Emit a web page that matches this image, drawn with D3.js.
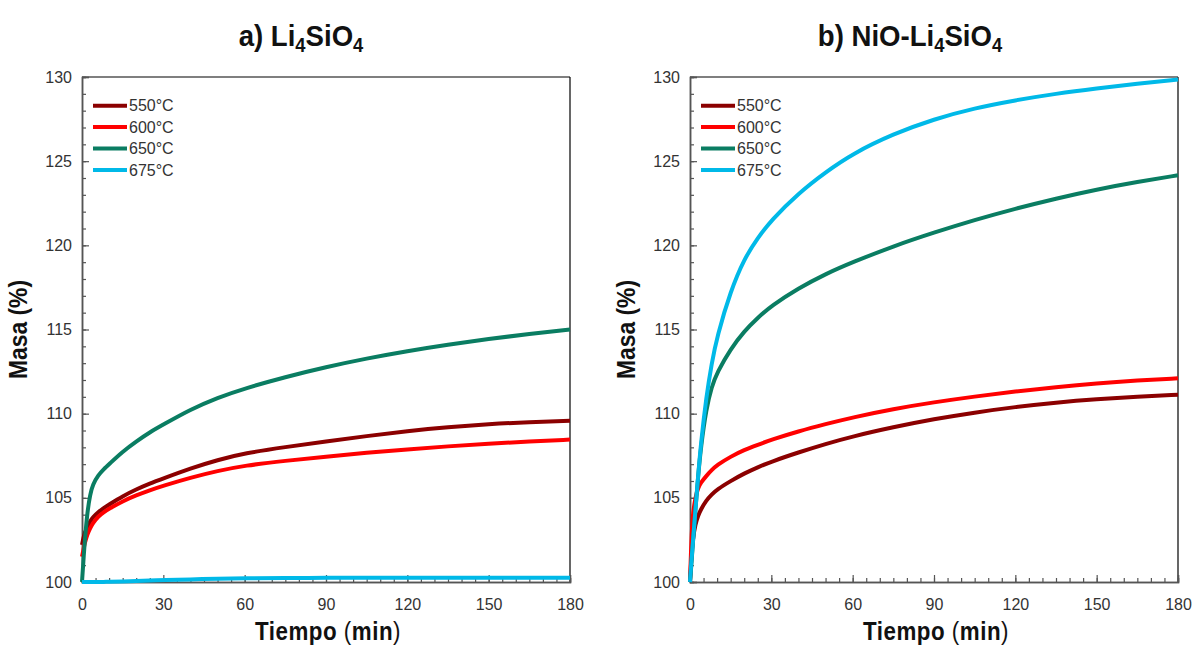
<!DOCTYPE html>
<html><head><meta charset="utf-8">
<script src="https://cdn.jsdelivr.net/npm/d3@7"></script>
<style>
body{margin:0;background:#fff;}
svg{display:block;}
.tick text{font-family:"Liberation Sans",Arial,sans-serif;}
</style></head><body>
<svg id="chart" width="1195" height="645"></svg>
<script>
const times = [0,0.5,1,2,3,4,6,8,10,15,20,25,30,40,50,60,75,90,105,120,135,150,165,180];
const seriesNames = ["550°C","600°C","650°C","675°C"];
const colors = ["#8B0000","#FF0000","#0A7D62","#00B9E8"];
// Panel a) Li4SiO4
const a550 = [102.2,102.6,102.9,103.3,103.6,103.85,104.15,104.4,104.6,105.1,105.5,105.85,106.15,106.75,107.25,107.65,108.02,108.35,108.67,108.96,109.2,109.38,109.5,109.58];
const a600 = [101.5,101.9,102.3,102.85,103.2,103.5,103.9,104.15,104.35,104.8,105.15,105.45,105.72,106.2,106.6,106.92,107.2,107.45,107.68,107.88,108.06,108.22,108.35,108.46];
const a650 = [100,101.2,102.4,104.2,105.2,105.8,106.35,106.7,107.0,107.75,108.35,108.9,109.35,110.25,110.95,111.5,112.18,112.77,113.28,113.72,114.1,114.44,114.74,115.0];
const a675 = [100,100,100,100,100,100,100,100,100.02,100.03,100.05,100.1,100.12,100.15,100.2,100.22,100.23,100.25,100.25,100.25,100.25,100.25,100.25,100.25];
// Panel b) NiO-Li4SiO4
const b550 = [100,101.5,102.5,103.45,103.95,104.3,104.85,105.2,105.5,106.0,106.45,106.82,107.15,107.7,108.2,108.65,109.2,109.68,110.07,110.4,110.66,110.86,111.01,111.13];
const b600 = [100,102.5,104.0,105.05,105.6,105.9,106.3,106.65,106.95,107.45,107.85,108.15,108.45,108.95,109.38,109.78,110.28,110.68,111.02,111.32,111.58,111.8,111.97,112.1];
const b650 = [100,101,102.2,104.3,106.3,108.0,110.3,111.6,112.45,113.85,114.9,115.7,116.4,117.45,118.3,119.0,119.95,120.76,121.51,122.18,122.78,123.32,123.77,124.16];
const b675 = [100,101.2,102.2,104.3,106.3,108.2,111.0,113.0,114.6,117.3,119.2,120.45,121.5,123.1,124.35,125.45,126.62,127.5,128.15,128.62,129.01,129.32,129.6,129.85];
const xTicks = [0,30,60,90,120,150,180];
const yTicks = [100,105,110,115,120,125,130];

const svg = d3.select("#chart");
const sans = '"Liberation Sans",Arial,sans-serif';

function panel(x0, x1, title, vals, titleX){
  const top=77, bottom=582;
  const x = d3.scaleLinear().domain([0,180]).range([x0,x1]);
  const y = d3.scaleLinear().domain([100,130]).range([bottom,top]);
  const g = svg.append("g");
  g.append("line").attr("x1",x0).attr("x2",x1).attr("y1",top).attr("y2",top).attr("stroke","#000").attr("stroke-width",1.2);
  g.append("line").attr("x1",x1).attr("x2",x1).attr("y1",top).attr("y2",bottom).attr("stroke","#000").attr("stroke-width",1.2);
  const ax = d3.axisBottom(x).tickValues(d3.range(0,181,5)).tickSize(-4).tickFormat("");
  const gxm = g.append("g").attr("transform",`translate(0,${bottom})`).call(ax);
  const ay = d3.axisLeft(y).tickValues(d3.range(100,131,1)).tickSize(-4).tickFormat("");
  const gym = g.append("g").attr("transform",`translate(${x0},0)`).call(ay);
  const gx = g.append("g").attr("transform",`translate(0,${bottom})`).call(d3.axisBottom(x).tickValues(xTicks).tickSize(-7).tickPadding(17));
  const gy = g.append("g").attr("transform",`translate(${x0},0)`).call(d3.axisLeft(y).tickValues(yTicks).tickSize(-7).tickPadding(17));
  [gxm,gym,gx,gy].forEach(s=>{
    s.select(".domain").attr("stroke","#555").attr("stroke-width",1.5);
    s.selectAll(".tick line").attr("stroke","#555").attr("stroke-width",1.2);
    s.selectAll(".tick text").attr("font-size",16).attr("fill","#333");
  });
  gy.selectAll(".tick text").attr("dx",7);
  gx.selectAll(".tick text").attr("dy","0.71em");
  const line = d3.line().x((d,i)=>x(times[i])).y(d=>y(d)).curve(d3.curveBasis);
  vals.forEach((v,k)=>{
    g.append("path").attr("d",line(v)).attr("fill","none").attr("stroke",colors[k]).attr("stroke-width",4).attr("stroke-linejoin","round");
  });
  seriesNames.forEach((n,k)=>{
    const ly = 105.7 + k*21.4;
    g.append("line").attr("x1",x0+11).attr("x2",x0+45).attr("y1",ly).attr("y2",ly).attr("stroke",colors[k]).attr("stroke-width",4);
    g.append("text").attr("x",x0+47).attr("y",ly).attr("dy","0.36em").attr("font-size",16).attr("fill","#333")
      .attr("font-family",sans).text(n);
  });
  const t = svg.append("text").attr("transform",`translate(${titleX},46) scale(0.92,1)`).attr("text-anchor","middle")
    .attr("font-family",sans).attr("font-weight","bold").attr("font-size",30).attr("fill","#111");
  title.forEach(p=>{
    const ts = t.append("tspan").text(p.t);
    if(p.sub) ts.attr("font-size",20).attr("dy",6); else if(p.after) ts.attr("dy",-6);
  });
  svg.append("text").attr("transform",`translate(${x0-55},${(top+bottom)/2}) rotate(-90) scale(0.88,1)`).attr("text-anchor","middle")
    .attr("font-family",sans).attr("font-weight","bold").attr("font-size",26).attr("fill","#111").text("Masa (%)");
  const xl = svg.append("text").attr("transform",`translate(${(x0+x1)/2+2},640) scale(0.86,1)`).attr("text-anchor","middle")
    .attr("font-family",sans).attr("font-weight","bold").attr("font-size",26).attr("fill","#111").attr("letter-spacing",0.6);
  xl.append("tspan").text("Tiempo ");
  xl.append("tspan").attr("font-weight","normal").text("(");
  xl.append("tspan").text("min");
  xl.append("tspan").attr("font-weight","normal").text(")");
}

panel(82, 570, [{t:"a) Li"},{t:"4",sub:true},{t:"SiO",after:true},{t:"4",sub:true}], [a550,a600,a650,a675], 301);
panel(690, 1178, [{t:"b) NiO-Li"},{t:"4",sub:true},{t:"SiO",after:true},{t:"4",sub:true}], [b550,b600,b650,b675], 910);
</script>
</body></html>
